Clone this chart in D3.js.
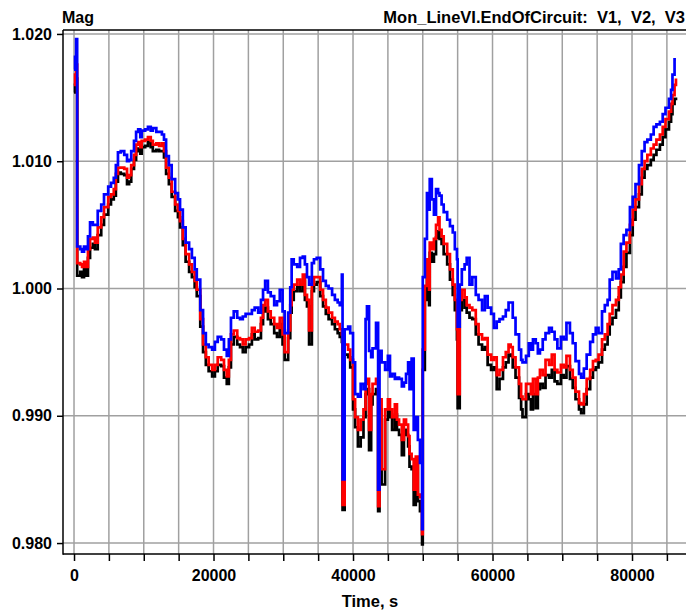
<!DOCTYPE html>
<html>
<head>
<meta charset="utf-8">
<script src="https://cdn.jsdelivr.net/npm/d3@7"></script>
<style>
  html, body { margin: 0; padding: 0; background: #fff; }
  svg { display: block; }
  text { font-family: "Liberation Sans", Arial, sans-serif; font-weight: bold; fill: #000; }
</style>
</head>
<body>
<svg id="chart" width="686" height="611"></svg>
<script>
// Monitor samples: time (s) and voltage magnitude (p.u.) of the three phases
const times = [0,150,300,450,900,1150,1430,1700,2000,2300,2700,3000,3400,3900,4300,4900,5300,5700,6000,6300,6700,7200,7600,7900,8200,8600,8900,9200,9500,9700,10200,10600,11000,11300,11800,12200,12600,12900,13200,13600,14000,14500,14900,15200,15600,16000,16500,16900,17300,17600,18100,18500,18900,19300,19800,20200,20600,21100,21500,21900,22200,22500,22900,23400,23800,24200,24600,25100,25500,25900,26400,26800,27100,27400,27800,28200,28700,29100,29500,29900,30200,30700,31000,31200,31500,32000,32400,32800,33100,33400,33700,34100,34400,34800,35300,35700,36100,36500,37000,37400,37800,38100,38400,38500,38800,39300,39600,40000,40300,40700,41100,41500,41800,42000,42300,42600,42800,43300,43600,43800,44100,44600,45000,45300,45600,46000,46300,46600,47000,47300,47600,47900,48100,48400,48700,49000,49300,49600,49900,50000,50300,50600,50900,51000,51300,51600,51900,52200,52400,52700,53000,53500,53900,54300,54600,54900,55000,55300,55600,56000,56300,56700,57100,57600,58000,58500,58900,59300,59800,60200,60600,61000,61500,61900,62300,62600,62900,63300,63800,64100,64300,64800,65200,65500,65800,66200,66500,66800,67200,67600,68100,68500,68900,69300,69800,70200,70600,71100,71500,71900,72400,72700,73100,73500,74000,74400,74800,75200,75700,76100,76500,76800,77200,77700,78100,78400,78800,79200,79700,80100,80500,81000,81400,81800,82200,82700,83100,83500,84000,84400,84800,85300,85600,85800,86100,86300];

const v3 = [1.0172,1.0182,1.0196,1.0033,1.0031,1.0029,1.0033,1.0031,1.0041,1.0052,1.0050,1.0050,1.0061,1.0066,1.0074,1.0080,1.0083,1.0087,1.0097,1.0107,1.0108,1.0105,1.0100,1.0101,1.0108,1.0116,1.0123,1.0125,1.0119,1.0124,1.0125,1.0127,1.0124,1.0126,1.0123,1.0123,1.0121,1.0117,1.0104,1.0097,1.0086,1.0075,1.0070,1.0062,1.0048,1.0036,1.0031,1.0024,1.0015,1.0007,0.9983,0.9965,0.9956,0.9954,0.9952,0.9958,0.9962,0.9960,0.9952,0.9947,0.9960,0.9977,0.9982,0.9977,0.9976,0.9978,0.9980,0.9980,0.9983,0.9985,0.9981,0.9991,0.9999,1.0006,0.9997,0.9994,0.9987,0.9990,0.9999,0.9982,0.9965,0.9981,1.0001,1.0023,1.0019,1.0017,1.0024,1.0025,1.0019,1.0009,1.0003,1.0020,1.0023,1.0024,1.0015,1.0006,1.0002,1.0000,0.9995,0.9991,0.9989,0.9987,1.0011,0.9850,0.9968,0.9970,0.9965,0.9942,0.9917,0.9915,0.9925,0.9921,0.9976,0.9986,0.9951,0.9946,0.9953,0.9973,0.9842,0.9951,0.9942,0.9936,0.9947,0.9931,0.9933,0.9929,0.9930,0.9929,0.9923,0.9926,0.9933,0.9942,0.9921,0.9945,0.9889,0.9899,0.9881,0.9863,0.9811,1.0009,1.0039,1.0075,1.0062,1.0086,1.0070,1.0058,1.0078,1.0075,1.0073,1.0066,1.0060,1.0054,1.0049,1.0044,1.0031,1.0023,0.9970,1.0003,1.0015,1.0019,1.0024,1.0003,1.0009,0.9995,0.9991,0.9983,0.9994,0.9985,0.9980,0.9969,0.9974,0.9976,0.9978,0.9983,0.9989,0.9989,0.9977,0.9964,0.9952,0.9944,0.9942,0.9947,0.9957,0.9952,0.9960,0.9957,0.9949,0.9952,0.9960,0.9965,0.9969,0.9966,0.9960,0.9953,0.9962,0.9960,0.9973,0.9965,0.9957,0.9943,0.9933,0.9930,0.9937,0.9948,0.9958,0.9964,0.9969,0.9965,0.9982,0.9987,0.9991,1.0007,1.0013,1.0008,1.0015,1.0035,1.0042,1.0046,1.0064,1.0072,1.0082,1.0097,1.0108,1.0115,1.0117,1.0121,1.0127,1.0129,1.0131,1.0137,1.0142,1.0149,1.0156,1.0168,1.0180,1.0180];

const v2 = [1.0160,1.0168,1.0176,1.0020,1.0019,1.0017,1.0021,1.0017,1.0031,1.0039,1.0040,1.0036,1.0048,1.0056,1.0064,1.0072,1.0074,1.0078,1.0090,1.0095,1.0095,1.0094,1.0087,1.0089,1.0097,1.0105,1.0113,1.0115,1.0111,1.0116,1.0117,1.0119,1.0116,1.0113,1.0114,1.0112,1.0114,1.0108,1.0095,1.0087,1.0076,1.0066,1.0061,1.0053,1.0039,1.0027,1.0019,1.0013,1.0006,0.9999,0.9976,0.9956,0.9946,0.9940,0.9936,0.9940,0.9946,0.9944,0.9936,0.9931,0.9944,0.9964,0.9967,0.9961,0.9960,0.9956,0.9960,0.9961,0.9969,0.9966,0.9967,0.9977,0.9987,0.9991,0.9982,0.9977,0.9972,0.9969,0.9977,0.9964,0.9950,0.9967,0.9987,0.9999,1.0003,1.0007,1.0003,1.0011,0.9995,0.9991,0.9967,1.0003,1.0009,1.0009,0.9999,0.9991,0.9985,0.9981,0.9977,0.9974,0.9972,0.9968,0.9964,0.9830,0.9956,0.9952,0.9944,0.9913,0.9899,0.9889,0.9897,0.9905,0.9925,0.9929,0.9889,0.9917,0.9925,0.9929,0.9829,0.9913,0.9858,0.9905,0.9913,0.9905,0.9899,0.9909,0.9897,0.9893,0.9881,0.9897,0.9893,0.9884,0.9870,0.9866,0.9842,0.9868,0.9838,0.9836,0.9807,0.9952,1.0002,1.0023,0.9999,1.0036,1.0031,1.0039,1.0050,1.0056,1.0046,1.0041,1.0035,1.0027,1.0015,1.0003,0.9991,0.9968,0.9917,0.9991,0.9999,0.9993,0.9987,0.9985,0.9983,0.9972,0.9964,0.9960,0.9961,0.9948,0.9944,0.9946,0.9932,0.9936,0.9946,0.9950,0.9956,0.9954,0.9946,0.9938,0.9925,0.9915,0.9913,0.9925,0.9925,0.9917,0.9929,0.9917,0.9930,0.9936,0.9932,0.9944,0.9940,0.9948,0.9936,0.9934,0.9940,0.9938,0.9947,0.9936,0.9930,0.9919,0.9910,0.9909,0.9917,0.9929,0.9936,0.9943,0.9944,0.9948,0.9960,0.9964,0.9972,0.9980,0.9987,0.9991,1.0001,1.0011,1.0029,1.0036,1.0050,1.0062,1.0070,1.0082,1.0094,1.0100,1.0105,1.0110,1.0113,1.0117,1.0121,1.0127,1.0133,1.0139,1.0145,1.0152,1.0160,1.0165];

const v1 = [1.0154,1.0160,1.0165,1.0010,1.0013,1.0009,1.0015,1.0010,1.0024,1.0032,1.0035,1.0031,1.0042,1.0050,1.0058,1.0066,1.0070,1.0073,1.0084,1.0091,1.0090,1.0089,1.0082,1.0084,1.0094,1.0101,1.0108,1.0110,1.0106,1.0111,1.0112,1.0115,1.0111,1.0108,1.0109,1.0108,1.0108,1.0103,1.0090,1.0082,1.0072,1.0061,1.0056,1.0048,1.0034,1.0021,1.0013,1.0009,1.0001,0.9994,0.9970,0.9950,0.9940,0.9935,0.9931,0.9935,0.9940,0.9939,0.9930,0.9925,0.9938,0.9956,0.9962,0.9956,0.9954,0.9950,0.9954,0.9956,0.9964,0.9960,0.9961,0.9972,0.9982,0.9985,0.9976,0.9972,0.9965,0.9962,0.9972,0.9956,0.9944,0.9961,0.9981,0.9991,0.9998,1.0001,0.9998,1.0006,0.9991,0.9986,0.9956,0.9998,1.0003,1.0005,0.9994,0.9986,0.9980,0.9976,0.9972,0.9968,0.9965,0.9962,0.9958,0.9826,0.9948,0.9946,0.9938,0.9905,0.9891,0.9876,0.9883,0.9899,0.9917,0.9921,0.9873,0.9909,0.9917,0.9921,0.9825,0.9905,0.9846,0.9897,0.9905,0.9899,0.9889,0.9901,0.9889,0.9885,0.9869,0.9889,0.9885,0.9876,0.9860,0.9858,0.9830,0.9861,0.9833,0.9825,0.9799,0.9936,0.9991,1.0011,0.9987,1.0028,1.0021,1.0027,1.0040,1.0045,1.0039,1.0035,1.0027,1.0019,1.0007,0.9995,0.9983,0.9960,0.9906,0.9983,0.9991,0.9985,0.9981,0.9977,0.9976,0.9964,0.9956,0.9952,0.9954,0.9940,0.9936,0.9938,0.9921,0.9929,0.9938,0.9942,0.9948,0.9947,0.9938,0.9930,0.9914,0.9905,0.9899,0.9917,0.9913,0.9905,0.9917,0.9906,0.9921,0.9925,0.9922,0.9932,0.9930,0.9936,0.9927,0.9925,0.9932,0.9930,0.9939,0.9929,0.9922,0.9913,0.9905,0.9902,0.9909,0.9921,0.9930,0.9936,0.9938,0.9942,0.9952,0.9956,0.9964,0.9972,0.9977,0.9983,0.9993,1.0005,1.0017,1.0028,1.0042,1.0054,1.0064,1.0074,1.0087,1.0094,1.0097,1.0101,1.0105,1.0109,1.0113,1.0119,1.0125,1.0131,1.0137,1.0145,1.0149,1.0150];

const xLabelTicks = [0, 20000, 40000, 60000, 80000];
const xGridTicks = d3.range(0, 85001, 5000);
const yTicks = [0.980, 0.990, 1.000, 1.010, 1.020];
const seriesColors = ["#000000", "#ff0000", "#0000ff"];

const plot = { left: 63, right: 692, top: 30, bottom: 554 };

const x = d3.scaleLinear().domain([-1580, 88600]).range([plot.left, plot.right]);
const y = d3.scaleLinear().domain([0.97914, 1.02031]).range([plot.bottom, plot.top]);

const svg = d3.select("#chart");

svg.append("defs").append("clipPath").attr("id", "plotClip")
  .append("rect")
  .attr("x", plot.left).attr("y", plot.top)
  .attr("width", plot.right - plot.left).attr("height", plot.bottom - plot.top);

// grid
const grid = svg.append("g");
grid.selectAll("line.vg").data(xGridTicks).join("line")
  .attr("x1", d => x(d)).attr("x2", d => x(d))
  .attr("y1", plot.top).attr("y2", plot.bottom)
  .attr("stroke", "#a0a0a0").attr("stroke-width", 1.5);
grid.selectAll("line.hg").data(yTicks).join("line")
  .attr("x1", plot.left).attr("x2", plot.right)
  .attr("y1", d => y(d)).attr("y2", d => y(d))
  .attr("stroke", "#a0a0a0").attr("stroke-width", 1.5);

// traces: V1 black, V2 red, V3 blue (drawn in that order)
const line = d3.line()
  .x(d => x(d[0]))
  .y(d => y(d[1]))
  .curve(d3.curveStepAfter);

const series = [v1, v2, v3];
svg.append("g").attr("clip-path", "url(#plotClip)")
  .selectAll("path").data(series).join("path")
  .attr("d", vals => line(times.map((t, i) => [t, vals[i]])))
  .attr("fill", "none")
  .attr("stroke", (d, i) => seriesColors[i])
  .attr("stroke-width", 2.7)
  .attr("stroke-linejoin", "miter");

// frame
svg.append("line").attr("x1", plot.left).attr("x2", plot.left)
  .attr("y1", plot.top).attr("y2", plot.bottom + 0.75)
  .attr("stroke", "#000").attr("stroke-width", 1.5);
svg.append("line").attr("x1", plot.left).attr("x2", plot.right)
  .attr("y1", plot.bottom).attr("y2", plot.bottom)
  .attr("stroke", "#000").attr("stroke-width", 1.5);
svg.append("line").attr("x1", plot.left).attr("x2", plot.right)
  .attr("y1", plot.top).attr("y2", plot.top)
  .attr("stroke", "#000").attr("stroke-width", 1.5);

// y axis
const yAxis = d3.axisLeft(y).tickValues(yTicks).tickFormat(d3.format(".3f"))
  .tickSize(6).tickPadding(5);
const gy = svg.append("g").attr("transform", `translate(${plot.left},0)`).call(yAxis);
gy.select(".domain").remove();
gy.selectAll(".tick line").attr("stroke", "#000").attr("stroke-width", 1.5);
gy.selectAll(".tick text").attr("font-size", 16).attr("font-family", null).attr("fill", "#000");

// x axis
const xAxis = d3.axisBottom(x).tickValues(xGridTicks)
  .tickFormat(d => xLabelTicks.includes(d) ? String(d) : "")
  .tickSize(7).tickPadding(9);
const gx = svg.append("g").attr("transform", `translate(0,${plot.bottom})`).call(xAxis);
gx.select(".domain").remove();
gx.selectAll(".tick line").attr("stroke", "#000").attr("stroke-width", 1.5);
gx.selectAll(".tick text").attr("font-size", 16).attr("font-family", null).attr("fill", "#000");

// titles
svg.append("text").attr("x", 62).attr("y", 23).attr("font-size", 16).text("Mag");
svg.append("text").attr("x", 685).attr("y", 23).attr("font-size", 16.5)
  .attr("text-anchor", "end").attr("xml:space", "preserve")
  .text("Mon_LineVI.EndOfCircuit:  V1,  V2,  V3");
svg.append("text").attr("x", 370).attr("y", 607).attr("font-size", 16.5)
  .attr("text-anchor", "middle").text("Time, s");
</script>
</body>
</html>
